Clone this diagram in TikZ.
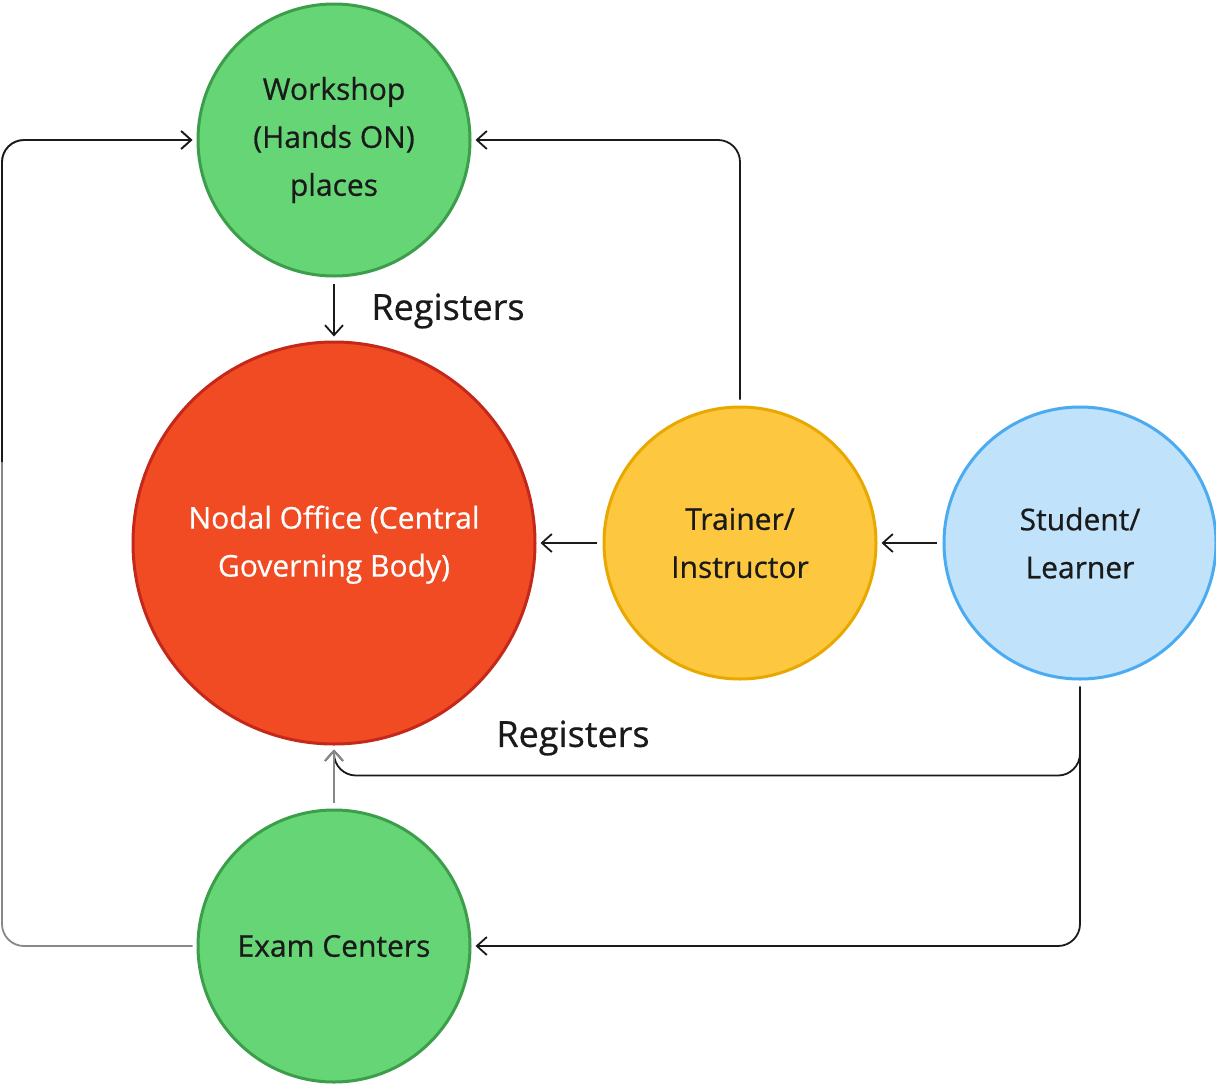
\documentclass[tikz,border=0pt]{standalone}
\usepackage{fontspec}
\setmainfont{Open Sans}[FakeBold=0.6, AutoFakeBold=0.6]
\usetikzlibrary{arrows.meta}
\definecolor{leafgreen}{HTML}{66D575}
\definecolor{leafedge}{HTML}{3C9E4B}
\definecolor{nodalred}{HTML}{F04B23}
\definecolor{nodaledge}{HTML}{C4281A}
\definecolor{sunyellow}{HTML}{FDC840}
\definecolor{sunedge}{HTML}{E8A800}
\definecolor{skyblue}{HTML}{C0E2FB}
\definecolor{skyedge}{HTML}{4AABF0}
\definecolor{inkdark}{HTML}{1A1A1A}
\definecolor{linegray}{HTML}{888888}
\tikzset{
  hub/.style={circle, draw, line width=1.5pt, inner sep=0pt, align=center,
    font=\fontsize{15}{24}\bfseries\selectfont, text=inkdark},
  small hub/.style={hub, minimum size=136pt},
  conn/.style={-{Straight Barb[length=5pt,width=9pt]}, line width=0.9pt, inkdark,
    rounded corners=11pt, shorten >=2pt, shorten <=3pt},
  tag/.style={font=\fontsize{18}{22}\bfseries\selectfont, text=inkdark}
}
\begin{document}
\begin{tikzpicture}[x=0.5pt, y=-0.5pt]
  \useasboundingbox (0,0) rectangle (1216,1087);
  % circles
  \node[small hub, fill=leafgreen, draw=leafedge] (work) at (334,140) {Workshop\\(Hands ON)\\places};
  \node[hub, minimum size=201pt, fill=nodalred, draw=nodaledge, text=white] (nodal) at (334,543) {\raisebox{-3.5pt}{\begin{tabular}{@{}c@{}}Nodal Office (Central\\Governing Body)\end{tabular}}};
  \node[small hub, fill=sunyellow, draw=sunedge] (trainer) at (740,543) {Trainer/\\Instructor};
  \node[small hub, fill=skyblue, draw=skyedge] (student) at (1080,543) {Student/\\Learner};
  \node[small hub, fill=leafgreen, draw=leafedge] (exam) at (334,946) {Exam Centers};
  % left loop
  \coordinate (lbot) at (2,946);
  \coordinate (lmid) at (2,462);
  \coordinate (ltop) at (2,140);
  % connectors
  \draw[conn] (work.south) -- (nodal.north);
  \draw[conn] (trainer.north) |- (work.east);
  \draw[conn] (trainer.west) -- (nodal.east);
  \draw[conn] (student.west) -- (trainer.east);
  \draw[conn] (student.south) |- ([yshift=-15pt]nodal.south) -- (nodal.south);
  \draw[conn] (student.south) |- (exam.east);
  \draw[conn, linegray] (exam.north) -- (nodal.south);
  \draw[conn, linegray, shorten <=2pt] (exam.west) -- (lbot) -- (ltop) -- (work.west);
  \draw[conn, shorten <=0pt] (lmid) -- (ltop) -- (work.west);
  % labels
  \node[tag] (reg1) at (448,311) {Registers};
  \node[tag] (reg2) at (573,738) {Registers};
\end{tikzpicture}
\end{document}
